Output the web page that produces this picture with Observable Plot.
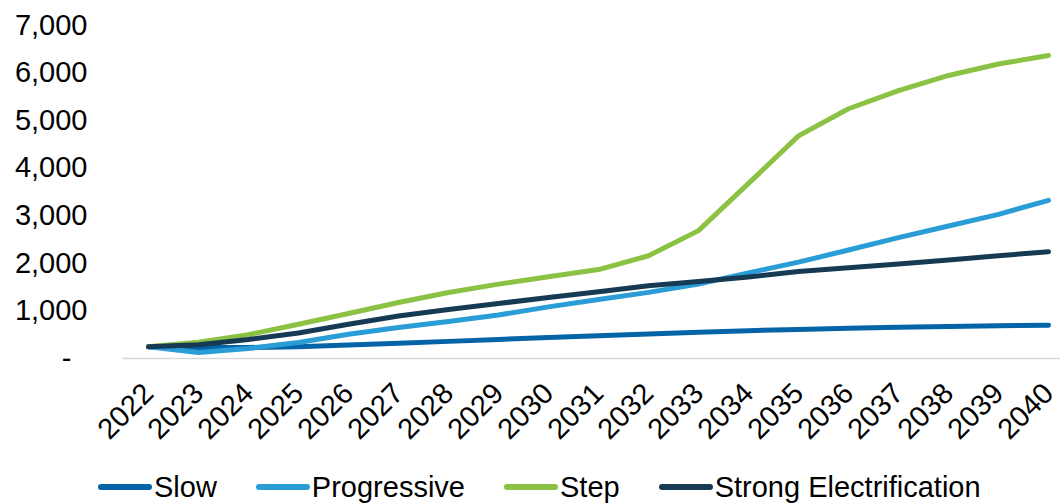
<!DOCTYPE html>
<html>
<head>
<meta charset="utf-8">
<script src="https://cdn.jsdelivr.net/npm/d3@7"></script>
<script src="https://cdn.jsdelivr.net/npm/@observablehq/plot@0.6"></script>
<style>
  html, body { margin: 0; padding: 0; background: #fff; }
  body { width: 1060px; height: 503px; overflow: hidden; font-family: "Liberation Sans", Arial, sans-serif; }
  #chart svg { display: block; }
  #legend { display: flex; align-items: center; height: 32px; margin-top: 11px; padding-left: 98px; font-size: 29px; color: #000; }
  .item { display: flex; align-items: center; margin-right: 39px; white-space: nowrap; }
  .sw { width: 54px; height: 6px; border-radius: 3px; margin-right: 2px; }
</style>
</head>
<body>
<div id="chart"></div>
<div id="legend"></div>
<script>
// ---- data ----
const years = [2022, 2023, 2024, 2025, 2026, 2027, 2028, 2029, 2030, 2031, 2032, 2033, 2034, 2035, 2036, 2037, 2038, 2039, 2040];
const seriesNames = ["Slow", "Progressive", "Step", "Strong Electrification"];
const seriesColors = ["#0563A7", "#2A9DD7", "#8BC243", "#163A54"];
const slow        = [245, 232, 232, 245, 285, 320, 360, 400, 440, 480, 515, 550, 585, 612, 638, 658, 675, 690, 700];
const progressive = [245, 125, 210, 335, 510, 650, 780, 915, 1085, 1240, 1390, 1565, 1800, 2025, 2280, 2540, 2785, 3030, 3325];
const step        = [245, 340, 500, 721, 945, 1177, 1388, 1564, 1718, 1870, 2160, 2688, 3680, 4680, 5250, 5630, 5950, 6190, 6370];
const strong      = [245, 290, 400, 535, 720, 895, 1030, 1156, 1282, 1405, 1529, 1619, 1715, 1830, 1910, 1985, 2070, 2160, 2245];
const yTicks = [0, 1000, 2000, 3000, 4000, 5000, 6000, 7000];

const seriesValues = [slow, progressive, step, strong];
const data = [];
seriesNames.forEach((name, s) => {
  years.forEach((yr, i) => data.push({series: name, year: yr, value: seriesValues[s][i]}));
});

const font = '"Liberation Sans", Arial, sans-serif';

const chart = Plot.plot({
  width: 1060,
  height: 460,
  marginLeft: 122,
  marginRight: 0,
  marginTop: 25,
  marginBottom: 102,
  style: {fontFamily: font, fontSize: "29px", color: "#000", background: "#fff", overflow: "visible"},
  x: {type: "point", domain: years, range: [122, 1074], padding: 0.5},
  y: {domain: [0, 7000]},
  color: {domain: seriesNames, range: seriesColors},
  marks: [
    Plot.ruleY([0], {stroke: "#d9d9d9", strokeWidth: 1.5}),
    Plot.axisY(yTicks, {
      tickSize: 0, tickPadding: 35, label: null, fontSize: 29,
      tickFormat: d => d === 0 ? "-\u00a0\u00a0" : d3.format(",")(d)
    }),
    Plot.axisX(years, {
      tickSize: 0, tickPadding: 30, tickRotate: -45, label: null, fontSize: 29,
      textAnchor: "end", lineAnchor: "middle",
      tickFormat: d => String(d)
    }),
    Plot.line(data, {
      x: "year", y: "value", z: "series", stroke: "series",
      strokeWidth: 5, strokeLinecap: "round", strokeLinejoin: "round"
    })
  ]
});
document.getElementById("chart").appendChild(chart);

const legend = document.getElementById("legend");
seriesNames.forEach((name, i) => {
  const item = document.createElement("div");
  item.className = "item";
  const sw = document.createElement("div");
  sw.className = "sw";
  sw.style.background = seriesColors[i];
  const label = document.createElement("span");
  label.textContent = name;
  item.appendChild(sw);
  item.appendChild(label);
  legend.appendChild(item);
});
</script>
</body>
</html>
